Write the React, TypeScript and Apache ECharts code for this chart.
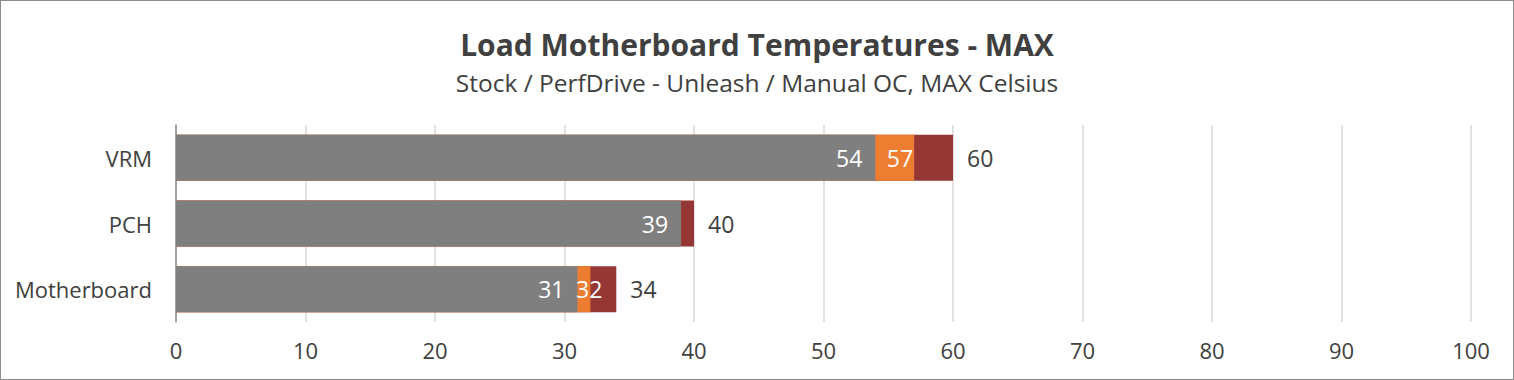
import React, { useEffect, useRef } from "react";
import * as echarts from "echarts";

const categories = ["VRM", "PCH", "Motherboard"];
const stock = [54, 39, 31];
const perfDrive = [57, 39, 32];
const manualOC = [60, 40, 34];
const xTicks = { min: 0, max: 100, interval: 10 };

const FONT = "'Open Sans', 'Noto Sans', sans-serif";
const TEXT = "#404040";

export default function App() {
  const ref = useRef<HTMLDivElement>(null);
  useEffect(() => {
    document.body.style.margin = "0";
    const chart = echarts.init(ref.current!, undefined, { renderer: "svg" });
    const perfData = perfDrive.map((v, i) => {
      if (i === 1) return { value: v, label: { show: false } };
      if (i === 2) return { value: v, label: { offset: [13, 0] } };
      return { value: v, label: { distance: 1 } };
    });
    chart.setOption({
      animation: false,
      textStyle: { fontFamily: FONT },
      title: [
        {
          text: "Load Motherboard Temperatures - MAX",
          left: "center",
          top: 26,
          padding: 0,
          textStyle: { fontFamily: FONT, fontSize: 30, lineHeight: 34, fontWeight: "bold", color: TEXT },
        },
        {
          text: "Stock / PerfDrive - Unleash / Manual OC, MAX Celsius",
          left: "center",
          top: 66,
          padding: 0,
          textStyle: { fontFamily: FONT, fontSize: 24.5, lineHeight: 30, fontWeight: "normal", color: TEXT },
        },
      ],
      grid: { left: 175, right: 42, top: 124, bottom: 57, containLabel: false },
      xAxis: {
        type: "value",
        min: xTicks.min,
        max: xTicks.max,
        interval: xTicks.interval,
        axisLine: { show: false },
        axisTick: { show: false },
        splitLine: { show: true, lineStyle: { color: "#d9d9d9", width: 1.5 } },
        axisLabel: { color: TEXT, fontSize: 22, fontFamily: FONT, margin: 17 },
      },
      yAxis: {
        type: "category",
        data: categories,
        inverse: true,
        axisLine: { show: true, lineStyle: { color: "#8c8c8c", width: 1.5 } },
        axisTick: { show: false },
        axisLabel: { color: TEXT, fontSize: 22, fontFamily: FONT, margin: 24 },
      },
      series: [
        {
          name: "Manual OC",
          type: "bar",
          data: manualOC,
          barGap: "-100%",
          barCategoryGap: "30%",
          itemStyle: { color: "#953735" },
          label: { show: true, position: "right", distance: 14, color: TEXT, fontSize: 23, fontFamily: FONT },
        },
        {
          name: "PerfDrive - Unleash",
          type: "bar",
          data: perfData,
          barGap: "-100%",
          barCategoryGap: "30%",
          itemStyle: { color: "#ed7d31", borderColor: "#ed7d31", borderWidth: 2 },
          label: { show: true, position: "insideRight", distance: 1, color: "#ffffff", fontSize: 23, fontFamily: FONT },
        },
        {
          name: "Stock",
          type: "bar",
          data: stock,
          barGap: "-100%",
          barCategoryGap: "30%",
          itemStyle: { color: "#7f7f7f", borderColor: "#7f7f7f", borderWidth: 2 },
          label: { show: true, position: "insideRight", distance: 13, color: "#ffffff", fontSize: 23, fontFamily: FONT },
        },
      ],
    });
    return () => chart.dispose();
  }, []);
  return (
    <div
      style={{
        position: "absolute",
        left: 0,
        top: 0,
        width: 1514,
        height: 380,
        boxSizing: "border-box",
        border: "1px solid #8c8c8c",
        background: "#fff",
      }}
    >
      <div ref={ref} style={{ width: 1512, height: 378 }} />
    </div>
  );
}
